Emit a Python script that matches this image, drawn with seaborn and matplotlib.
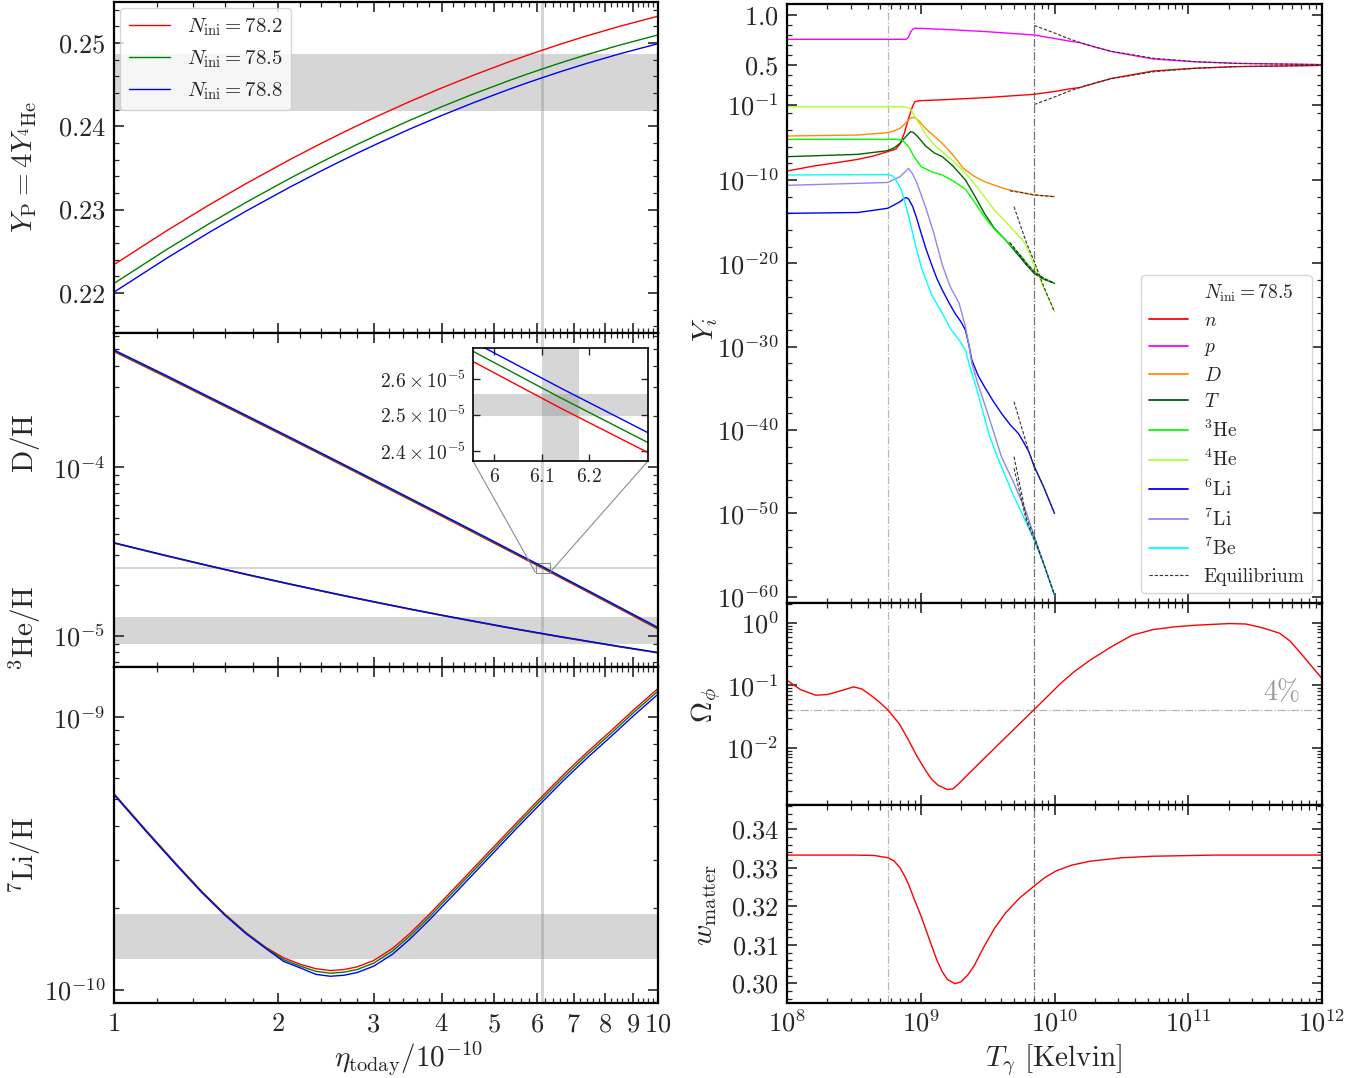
import numpy as np
import matplotlib
matplotlib.use("Agg")
import matplotlib.pyplot as plt
import seaborn as sns
from matplotlib.lines import Line2D
from matplotlib.ticker import FixedLocator, FixedFormatter, LogLocator, NullFormatter, NullLocator, MultipleLocator
from matplotlib.transforms import blended_transform_factory
from mpl_toolkits.axes_grid1.inset_locator import mark_inset

# ---------------- left column: abundances vs eta ----------------
N_LABELS = ["78.2", "78.5", "78.8"]
N_COLORS = ["red", "green", "blue"]

ETA = [1.0, 1.25, 1.5, 1.75, 2.1, 2.4, 2.6, 2.8, 3.05, 3.5, 4.0, 4.6, 5.3, 5.7, 6.14, 6.6, 7.4, 8.5, 10.0]

YP_782 = [0.22340, 0.22747, 0.23061, 0.23313, 0.23596, 0.23792, 0.23905, 0.24007, 0.24121, 0.24297,
          0.24458, 0.24617, 0.24768, 0.24842, 0.24914, 0.24982, 0.25084, 0.25198, 0.25320]
YP_785 = [0.22115, 0.22522, 0.22836, 0.23088, 0.23371, 0.23567, 0.23680, 0.23782, 0.23896, 0.24072,
          0.24233, 0.24392, 0.24543, 0.24617, 0.24689, 0.24757, 0.24859, 0.24973, 0.25095]
YP_788 = [0.22010, 0.22417, 0.22731, 0.22983, 0.23266, 0.23462, 0.23575, 0.23677, 0.23791, 0.23967,
          0.24128, 0.24287, 0.24438, 0.24512, 0.24584, 0.24652, 0.24754, 0.24868, 0.24990]

DH_782 = [4.85e-4, 3.41e-4, 2.545e-4, 1.987e-4, 1.480e-4, 1.191e-4, 1.045e-4, 9.26e-5, 8.04e-5, 6.41e-5,
          5.14e-5, 4.076e-5, 3.218e-5, 2.848e-5, 2.518e-5, 2.226e-5, 1.835e-5, 1.450e-5, 1.099e-5]
DH_785 = [4.90e-4, 3.45e-4, 2.573e-4, 2.009e-4, 1.496e-4, 1.204e-4, 1.056e-4, 9.36e-5, 8.13e-5, 6.48e-5,
          5.20e-5, 4.121e-5, 3.253e-5, 2.880e-5, 2.547e-5, 2.250e-5, 1.855e-5, 1.466e-5, 1.111e-5]
DH_788 = [4.96e-4, 3.49e-4, 2.601e-4, 2.031e-4, 1.513e-4, 1.217e-4, 1.068e-4, 9.46e-5, 8.22e-5, 6.55e-5,
          5.25e-5, 4.166e-5, 3.289e-5, 2.910e-5, 2.575e-5, 2.275e-5, 1.875e-5, 1.482e-5, 1.123e-5]

HE3_782 = [3.548e-5, 2.975e-5, 2.589e-5, 2.310e-5, 2.027e-5, 1.847e-5, 1.749e-5, 1.664e-5, 1.573e-5, 1.439e-5,
           1.323e-5, 1.216e-5, 1.118e-5, 1.072e-5, 1.028e-5, 9.87e-6, 9.28e-6, 8.62e-6, 7.94e-6]
HE3_785 = [3.56e-5, 2.985e-5, 2.597e-5, 2.317e-5, 2.033e-5, 1.853e-5, 1.754e-5, 1.669e-5, 1.578e-5, 1.443e-5,
           1.327e-5, 1.220e-5, 1.121e-5, 1.075e-5, 1.031e-5, 9.90e-6, 9.31e-6, 8.65e-6, 7.96e-6]
HE3_788 = [3.57e-5, 2.995e-5, 2.605e-5, 2.324e-5, 2.039e-5, 1.859e-5, 1.759e-5, 1.674e-5, 1.583e-5, 1.447e-5,
           1.331e-5, 1.224e-5, 1.124e-5, 1.078e-5, 1.034e-5, 9.93e-6, 9.34e-6, 8.68e-6, 7.98e-6]

ETA_LI = [1.0, 1.15, 1.3, 1.45, 1.6, 1.75, 1.9, 2.05, 2.2, 2.35, 2.5, 2.65, 2.8, 3.0, 3.25, 3.5, 3.8,
          4.2, 4.6, 5.0, 5.5, 6.1, 6.7, 7.4, 8.2, 9.0, 10.0]
LI7_782 = [5.25e-10, 3.82e-10, 2.91e-10, 2.30e-10, 1.897e-10, 1.622e-10, 1.435e-10, 1.312e-10, 1.242e-10,
           1.197e-10, 1.178e-10, 1.189e-10, 1.216e-10, 1.282e-10, 1.419e-10, 1.614e-10, 1.897e-10, 2.333e-10,
           2.825e-10, 3.365e-10, 4.11e-10, 5.09e-10, 6.15e-10, 7.43e-10, 8.93e-10, 1.06e-9, 1.275e-9]
LI7_785 = [5.22e-10, 3.80e-10, 2.895e-10, 2.29e-10, 1.888e-10, 1.614e-10, 1.428e-10, 1.292e-10, 1.223e-10,
           1.171e-10, 1.152e-10, 1.163e-10, 1.189e-10, 1.254e-10, 1.388e-10, 1.578e-10, 1.855e-10, 2.282e-10,
           2.763e-10, 3.291e-10, 4.02e-10, 4.98e-10, 6.01e-10, 7.27e-10, 8.73e-10, 1.037e-9, 1.247e-9]
LI7_788 = [5.20e-10, 3.78e-10, 2.88e-10, 2.277e-10, 1.878e-10, 1.606e-10, 1.421e-10, 1.273e-10, 1.205e-10,
           1.141e-10, 1.123e-10, 1.133e-10, 1.159e-10, 1.222e-10, 1.352e-10, 1.538e-10, 1.808e-10, 2.223e-10,
           2.692e-10, 3.207e-10, 3.92e-10, 4.85e-10, 5.86e-10, 7.08e-10, 8.51e-10, 1.010e-9, 1.215e-9]

# observational bands
ETA_OBS = [6.10, 6.18]
YP_OBS = [0.2418, 0.2487]
DH_OBS = [2.497e-5, 2.557e-5]
HE3_OBS = [0.9e-5, 1.3e-5]
LI7_OBS = [1.3e-10, 1.9e-10]

# ---------------- right column: abundances vs temperature (N_ini = 78.5) ----------------
T_N = [1.0e8, 1.64e8, 2.5e8, 3.39e8, 4.47e8, 5.64e8, 6.52e8, 7.0e8, 7.53e8, 8.11e8, 8.71e8, 9.04e8, 9.77e8,
       1.45e9, 2.99e9, 7.06e9, 1.0e10, 1.28e10, 1.55e10, 2.65e10, 5.47e10, 1.13e11, 2.34e11, 1.0e12]
Y_N = [1.2e-9, 5.2e-9, 1.4e-8, 3.0e-8, 7.9e-8, 2.5e-7, 5.2e-7, 2.1e-6, 4.0e-5, 2.5e-3, 0.076, 0.133, 0.143,
       0.152, 0.173, 0.207, 0.235, 0.26, 0.275, 0.365, 0.44, 0.468, 0.484, 0.496]
T_P = [1.0e8, 3.39e8, 7.53e8, 7.82e8, 8.11e8, 8.39e8, 8.71e8, 9.04e8, 1.0e9, 1.45e9, 2.99e9, 7.06e9, 1.0e10,
       1.28e10, 1.55e10, 2.65e10, 5.47e10, 1.13e11, 2.34e11, 1.0e12]
Y_P = [0.757, 0.757, 0.757, 0.759, 0.78, 0.83, 0.858, 0.867, 0.866, 0.857, 0.835, 0.80, 0.765, 0.74, 0.723,
       0.635, 0.56, 0.532, 0.516, 0.504]
T_D = [1.0e8, 3.39e8, 5.64e8, 6.31e8, 7.0e8, 7.53e8, 8.09e8, 8.39e8, 8.71e8, 9.04e8, 9.55e8, 1.084e9, 1.26e9,
       1.449e9, 1.74e9, 2.08e9, 2.51e9, 2.99e9, 3.55e9, 4.31e9, 5.62e9, 7.06e9, 1.0e10]
Y_D = [1.9e-5, 2.5e-5, 4.8e-5, 7.6e-5, 1.6e-4, 4.5e-4, 1.6e-3, 2.8e-3, 3.2e-3, 2.75e-3, 1.6e-3, 1.6e-4, 1.8e-5,
       2.5e-6, 1.0e-7, 2.5e-9, 2.8e-10, 6.3e-11, 2.4e-11, 8.3e-12, 3.2e-12, 1.6e-12, 1.0e-12]
T_T = [1.0e8, 3.39e8, 5.64e8, 6.31e8, 7.0e8, 7.53e8, 8.09e8, 8.39e8, 8.71e8, 9.33e8, 1.084e9, 1.26e9, 1.449e9,
       1.74e9, 2.158e9, 2.51e9, 2.99e9, 3.55e9, 4.31e9, 5.62e9, 6.19e9, 7.06e9, 8.32e9, 1.0e10]
Y_T = [6.3e-8, 1.2e-7, 3.3e-7, 7.1e-7, 2.5e-6, 1.0e-5, 3.5e-5, 6.3e-5, 5.6e-5, 2.2e-5, 1.26e-6, 1.8e-7, 6.3e-8,
       5.0e-9, 1.0e-10, 1.6e-12, 1.0e-14, 1.6e-16, 6.3e-18, 4.0e-20, 6.3e-21, 6.3e-22, 1.26e-22, 4.0e-23]
T_HE3 = [1.0e8, 6.52e8, 7.26e8, 8.11e8, 8.91e8, 1.007e9, 1.20e9, 1.449e9, 1.74e9, 2.158e9, 2.51e9, 2.99e9,
         3.55e9, 4.31e9, 5.62e9, 6.19e9, 7.06e9, 8.32e9, 1.0e10]
Y_HE3 = [7.6e-6, 7.6e-6, 6.3e-6, 1.0e-6, 6.3e-8, 4.0e-9, 1.0e-9, 4.0e-10, 7.9e-11, 7.9e-12, 2.5e-13, 4.0e-15,
         1.26e-16, 6.3e-18, 7.9e-20, 1.0e-20, 1.0e-21, 1.6e-22, 4.0e-23]
T_HE4 = [1.0e8, 7.53e8, 7.94e8, 8.39e8, 9.04e8, 1.007e9, 1.084e9, 1.26e9, 1.449e9, 1.74e9, 2.08e9, 2.51e9,
         2.99e9, 3.55e9, 4.31e9, 5.75e9, 6.19e9, 7.06e9, 8.32e9, 1.0e10]
Y_HE4 = [0.0617, 0.0617, 0.050, 0.0316, 4.0e-3, 2.5e-4, 3.2e-5, 1.6e-6, 2.5e-7, 2.0e-8, 1.3e-9, 4.0e-11,
         1.0e-12, 2.5e-14, 1.0e-15, 6.3e-18, 1.0e-18, 6.3e-21, 1.0e-23, 1.6e-26]
T_LI6 = [1.0e8, 3.39e8, 5.64e8, 6.31e8, 7.0e8, 7.53e8, 7.82e8, 8.13e8, 8.71e8, 9.33e8, 1.007e9, 1.096e9,
         1.208e9, 1.318e9, 1.449e9, 1.622e9, 1.803e9, 1.995e9, 2.158e9, 2.291e9, 2.41e9, 2.69e9, 2.99e9,
         3.47e9, 4.01e9, 4.68e9, 5.36e9, 5.89e9, 6.43e9, 7.06e9, 8.28e9, 1.0e10]
Y_LI6 = [1.0e-14, 1.26e-14, 4.0e-14, 1.0e-13, 2.5e-13, 6.3e-13, 7.9e-13, 5.0e-13, 6.3e-14, 2.5e-15, 4.0e-17,
         5.0e-19, 6.3e-21, 1.6e-22, 6.3e-24, 2.0e-25, 1.0e-26, 1.0e-27, 1.0e-28, 1.6e-30, 2.5e-32, 3.2e-34,
         1.6e-35, 3.2e-37, 1.0e-38, 4.0e-40, 4.0e-41, 3.2e-42, 2.5e-43, 4.0e-45, 1.6e-47, 1.0e-50]
T_LI7 = [1.0e8, 5.64e8, 7.0e8, 7.53e8, 8.11e8, 8.71e8, 9.38e8, 1.084e9, 1.253e9, 1.449e9, 1.66e9, 1.936e9,
         2.158e9, 2.291e9, 2.41e9, 2.69e9, 2.99e9, 3.47e9, 4.01e9, 4.98e9, 6.19e9, 7.06e9, 8.28e9, 1.0e10]
Y_LI7 = [2.3e-11, 5.0e-11, 2.5e-10, 7.9e-10, 2.5e-9, 5.0e-10, 4.0e-11, 6.3e-14, 4.0e-17, 6.3e-21, 1.6e-23,
         1.6e-25, 2.5e-28, 1.6e-30, 1.0e-32, 2.5e-35, 1.6e-37, 1.0e-40, 6.3e-44, 4.0e-47, 1.0e-50, 1.6e-53,
         1.0e-56, 1.6e-60]
T_BE7 = [1.0e8, 5.64e8, 6.17e8, 6.52e8, 7.08e8, 7.53e8, 8.13e8, 8.71e8, 9.33e8, 1.007e9, 1.096e9, 1.208e9,
         1.449e9, 1.66e9, 1.936e9, 2.158e9, 2.291e9, 2.59e9, 2.88e9, 3.22e9, 3.55e9, 4.01e9, 4.98e9, 6.19e9,
         7.06e9, 8.28e9, 1.0e10]
Y_BE7 = [4.0e-10, 4.4e-10, 3.2e-10, 1.0e-10, 1.0e-11, 4.0e-13, 4.0e-15, 4.0e-17, 4.0e-19, 4.0e-21, 1.0e-22,
         1.6e-24, 1.0e-26, 1.6e-28, 6.3e-30, 4.0e-31, 1.0e-32, 1.6e-35, 3.2e-38, 4.0e-41, 5.0e-43, 4.0e-45,
         1.0e-48, 6.3e-52, 6.3e-54, 1.0e-56, 1.6e-60]

# equilibrium curves
TEQ_NP = [7.06e9, 1.0e10, 1.28e10, 1.55e10, 2.0e10, 2.65e10, 5.47e10, 1.13e11, 2.34e11, 1.0e12]
YEQ_N = [0.105, 0.18, 0.237, 0.275, 0.32, 0.362, 0.432, 0.467, 0.484, 0.496]
YEQ_P = [0.895, 0.82, 0.763, 0.725, 0.68, 0.638, 0.568, 0.533, 0.516, 0.504]
TEQ_D = [4.63e9, 5.62e9, 7.06e9, 1.0e10]
YEQ_D = [5.0e-12, 3.2e-12, 1.6e-12, 1.0e-12]
TEQ_T = [4.63e9, 6.19e9, 7.06e9, 8.32e9, 1.0e10]
YEQ_T = [3.2e-18, 6.3e-21, 6.3e-22, 1.26e-22, 4.0e-23]
YEQ_HE3 = [3.2e-18, 1.0e-20, 1.0e-21, 1.6e-22, 4.0e-23]
TEQ_HE4 = [4.98e9, 6.19e9, 7.06e9, 8.32e9, 1.0e10]
YEQ_HE4 = [6.3e-14, 2.5e-18, 1.6e-20, 1.6e-23, 1.6e-26]
TEQ_LI6 = [4.98e9, 6.43e9, 7.06e9, 8.28e9, 1.0e10]
YEQ_LI6 = [2.5e-37, 2.5e-43, 4.0e-45, 1.6e-47, 1.0e-50]
TEQ_LI7 = [4.98e9, 6.19e9, 7.06e9, 8.28e9, 1.0e10]
YEQ_LI7 = [6.3e-44, 2.5e-51, 1.6e-53, 1.0e-56, 1.6e-60]
YEQ_BE7 = [2.5e-45, 1.0e-51, 6.3e-54, 1.0e-56, 1.6e-60]

T_OMEGA = [1.0e8, 1.26e8, 1.64e8, 2.0e8, 2.36e8, 3.15e8, 3.63e8, 4.22e8, 4.90e8, 5.71e8, 6.92e8, 8.11e8,
           9.33e8, 1.084e9, 1.20e9, 1.346e9, 1.581e9, 1.74e9, 1.936e9, 2.40e9, 2.99e9, 4.63e9, 7.06e9,
           1.107e10, 1.41e10, 1.84e10, 2.65e10, 3.80e10, 5.47e10, 7.94e10, 1.13e11, 2.02e11, 2.69e11,
           3.37e11, 3.98e11, 4.84e11, 5.75e11, 6.95e11, 8.32e11, 1.0e12]
OMEGA_PHI = [0.120, 0.0851, 0.0692, 0.0708, 0.0782, 0.0940, 0.0871, 0.0692, 0.0537, 0.0398, 0.0240, 0.0132,
             0.00741, 0.00437, 0.00316, 0.00251, 0.00214, 0.00219, 0.00269, 0.00427, 0.00676, 0.0170, 0.0410,
             0.106, 0.166, 0.251, 0.410, 0.631, 0.778, 0.861, 0.912, 0.970, 0.955, 0.857, 0.776, 0.676, 0.513,
             0.324, 0.204, 0.128]

T_W = [1.0e8, 3.16e8, 4.47e8, 5.71e8, 6.31e8, 7.0e8, 7.59e8, 8.11e8, 8.91e8, 1.007e9, 1.096e9, 1.208e9,
       1.318e9, 1.449e9, 1.585e9, 1.803e9, 2.0e9, 2.239e9, 2.51e9, 2.99e9, 3.55e9, 4.31e9, 5.50e9, 7.06e9,
       8.51e9, 1.03e10, 1.35e10, 1.84e10, 3.16e10, 5.47e10, 1.58e11, 1.0e12]
W_MATTER = [0.3333, 0.3333, 0.3332, 0.3326, 0.3318, 0.3300, 0.3278, 0.3257, 0.3220, 0.3174, 0.3138, 0.3097,
            0.3061, 0.3030, 0.3010, 0.2999, 0.3004, 0.3021, 0.3046, 0.3097, 0.3142, 0.3183, 0.3222, 0.3253,
            0.3275, 0.3292, 0.3307, 0.3317, 0.3326, 0.3330, 0.3333, 0.3333]

T_MARKS = [5.71e8, 7.06e9]

SPECIES = [
    (r"$n$", T_N, Y_N, "red"),
    (r"$p$", T_P, Y_P, "magenta"),
    (r"$D$", T_D, Y_D, "darkorange"),
    (r"$T$", T_T, Y_T, "darkgreen"),
    (r"${}^3$He", T_HE3, Y_HE3, "lime"),
    (r"${}^4$He", T_HE4, Y_HE4, "greenyellow"),
    (r"${}^6$Li", T_LI6, Y_LI6, "blue"),
    (r"${}^7$Li", T_LI7, Y_LI7, "#8f88f0"),
    (r"${}^7$Be", T_BE7, Y_BE7, "cyan"),
]
EQUILIBRIUM = [(TEQ_NP, YEQ_N), (TEQ_NP, YEQ_P), (TEQ_D, YEQ_D), (TEQ_T, YEQ_T), (TEQ_T, YEQ_HE3),
               (TEQ_HE4, YEQ_HE4), (TEQ_LI6, YEQ_LI6), (TEQ_LI7, YEQ_LI7), (TEQ_LI7, YEQ_BE7)]

sns.set_theme(style="ticks")
plt.rcParams.update({
    "font.family": "serif",
    "font.serif": ["cmr10"],
    "mathtext.fontset": "cm",
    "axes.unicode_minus": False,
    "axes.formatter.use_mathtext": True,
    "axes.linewidth": 1.6,
    "axes.edgecolor": "black",
})

W, H = 1372, 1078


def frame(px_left, px_top, px_right, px_bottom):
    return [px_left / W, 1 - px_bottom / H, (px_right - px_left) / W, (px_bottom - px_top) / H]


def line(ax, x, y, color, lw=1.0, **kw):
    sns.lineplot(x=x, y=y, ax=ax, color=color, linewidth=lw, estimator=None, sort=False, legend=False, **kw)


def style_ticks(ax, size=19):
    ax.tick_params(which="both", direction="in", top=True, right=True, labelsize=size, pad=6)
    ax.tick_params(which="major", length=7, width=1.2)
    ax.tick_params(which="minor", length=3.5, width=0.9)


def sci(v):
    return r"$10^{%d}$" % int(round(np.log10(v)))


fig = plt.figure(figsize=(W / 100, H / 100), dpi=100)

ax_yp = fig.add_axes(frame(114, 2, 658, 333))
ax_dh = fig.add_axes(frame(114, 333, 658, 667))
ax_li = fig.add_axes(frame(114, 667, 658, 1003))
ax_y = fig.add_axes(frame(787, 4, 1322, 603))
ax_om = fig.add_axes(frame(787, 603, 1322, 805))
ax_w = fig.add_axes(frame(787, 805, 1322, 1003))

# ---------- left column ----------
yp_sets = [YP_782, YP_785, YP_788]
dh_sets = [DH_782, DH_785, DH_788]
he3_sets = [HE3_782, HE3_785, HE3_788]
li_sets = [LI7_782, LI7_785, LI7_788]

for ax in (ax_yp, ax_dh, ax_li):
    ax.set_xscale("log")
ax_dh.set_yscale("log")
ax_li.set_yscale("log")

band = dict(color="gray", alpha=0.32, lw=0, zorder=0)
ax_yp.axhspan(*YP_OBS, **band)
ax_dh.axhspan(*DH_OBS, **band)
ax_dh.axhspan(*HE3_OBS, **band)
ax_li.axhspan(*LI7_OBS, **band)
for ax in (ax_yp, ax_dh, ax_li):
    ax.axvspan(*ETA_OBS, **band)

for c, yp, dh, he3, li in zip(N_COLORS, yp_sets, dh_sets, he3_sets, li_sets):
    line(ax_yp, ETA, yp, c)
    line(ax_dh, ETA, dh, c)
    line(ax_dh, ETA, he3, c)
    line(ax_li, ETA_LI, li, c)

ax_yp.set_ylim(0.2152, 0.2549)
ax_dh.set_ylim(6.55e-6, 6.25e-4)
ax_li.set_ylim(8.96e-11, 1.529e-9)

eta_major = list(range(1, 11))
eta_minor = [i + 0.2 * k for i in range(1, 10) for k in range(1, 5)]
for ax in (ax_yp, ax_dh, ax_li):
    ax.set_xlim(1, 10)
    ax.xaxis.set_major_locator(FixedLocator(eta_major))
    ax.xaxis.set_minor_locator(FixedLocator(eta_minor))
    ax.xaxis.set_major_formatter(FixedFormatter([r"$%d$" % v for v in eta_major]))
    ax.xaxis.set_minor_formatter(NullFormatter())
    style_ticks(ax)
    ax.set_xlabel("")
    ax.set_ylabel("")
ax_yp.tick_params(labelbottom=False)
ax_dh.tick_params(labelbottom=False)
ax_li.tick_params(axis="x", pad=7)

yp_ticks = [0.22, 0.23, 0.24, 0.25]
ax_yp.yaxis.set_major_locator(FixedLocator(yp_ticks))
ax_yp.yaxis.set_major_formatter(FixedFormatter([r"$%.2f$" % v for v in yp_ticks]))
ax_yp.yaxis.set_minor_locator(MultipleLocator(0.002))

ax_dh.yaxis.set_major_locator(FixedLocator([1e-5, 1e-4]))
ax_dh.yaxis.set_major_formatter(FixedFormatter([r"$10^{-5}$", r"$10^{-4}$"]))
ax_dh.yaxis.set_minor_locator(LogLocator(base=10, subs=range(2, 10)))
ax_dh.yaxis.set_minor_formatter(NullFormatter())

ax_li.yaxis.set_major_locator(FixedLocator([1e-10, 1e-9]))
ax_li.yaxis.set_major_formatter(FixedFormatter([r"$10^{-10}$", r"$10^{-9}$"]))
ax_li.yaxis.set_minor_locator(LogLocator(base=10, subs=range(2, 10)))
ax_li.yaxis.set_minor_formatter(NullFormatter())

ax_yp.legend([Line2D([], [], color=c, lw=1.0) for c in N_COLORS],
             [r"$N_{\rm ini} = %s$" % n for n in N_LABELS],
             loc="upper left", fontsize=15, frameon=True, fancybox=True, framealpha=0.8,
             edgecolor="0.8", borderaxespad=0.3)

# zoom inset on the D/H measurement
axins = fig.add_axes(frame(473, 348, 648, 461))
axins.set_yscale("log")
axins.axhspan(*DH_OBS, **band)
axins.axvspan(*ETA_OBS, **band)
for c, dh in zip(N_COLORS, dh_sets):
    line(axins, ETA, dh, c)
axins.set_xlim(5.955, 6.325)
axins.set_ylim(2.374e-5, 2.692e-5)
axins.xaxis.set_major_locator(FixedLocator([6.0, 6.1, 6.2]))
axins.xaxis.set_major_formatter(FixedFormatter([r"$6$", r"$6.1$", r"$6.2$"]))
axins.yaxis.set_major_locator(FixedLocator([2.4e-5, 2.5e-5, 2.6e-5]))
axins.yaxis.set_major_formatter(FixedFormatter([r"$2.4\times10^{-5}$", r"$2.5\times10^{-5}$",
                                                r"$2.6\times10^{-5}$"]))
axins.yaxis.set_minor_locator(NullLocator())
axins.xaxis.set_minor_locator(NullLocator())
axins.tick_params(which="both", direction="in", top=True, right=True, labelsize=14, length=5, width=1.0, pad=5)
for s in axins.spines.values():
    s.set_linewidth(1.2)
axins.set_xlabel("")
axins.set_ylabel("")
mark_inset(ax_dh, axins, loc1=3, loc2=4, fc="none", ec="0.55", lw=0.8)


# ---------- right column ----------
# linear above 0.1, logarithmic below (12 decades per unit on the linear part)
def fwd(y):
    y = np.asarray(y, dtype=float)
    lg = np.log10(np.where(y > 0, y, 1e-300))
    return np.where(y >= 0.1, -1 + (y - 0.1) * 12, lg)


def inv(u):
    u = np.asarray(u, dtype=float)
    return np.where(u >= -1, 0.1 + (u + 1) / 12, 10.0 ** np.minimum(u, -1))


for ax in (ax_y, ax_om, ax_w):
    ax.set_xscale("log")
ax_y.set_yscale("function", functions=(fwd, inv))
ax_om.set_yscale("log")

for ax in (ax_y, ax_om, ax_w):
    ax.axvline(T_MARKS[0], color="0.72", ls="-.", lw=0.9, zorder=0)
    ax.axvline(T_MARKS[1], color="0.45", ls="-.", lw=0.9, zorder=0)

for label, tx, ty, c in SPECIES:
    line(ax_y, tx, ty, c)
for tx, ty in EQUILIBRIUM:
    line(ax_y, tx, ty, "0.2", lw=0.8, linestyle=(0, (3, 1.6)))

ax_y.set_ylim(10.0 ** -60.76, 1.11)
y_major = [1e-60, 1e-50, 1e-40, 1e-30, 1e-20, 1e-10, 0.1, 0.5, 1.0]
y_major_lab = [sci(v) for v in y_major[:7]] + [r"$0.5$", r"$1.0$"]
y_minor = [10.0 ** -k for k in range(2, 61, 2) if k % 10] + [0.2, 0.3, 0.4, 0.6, 0.7, 0.8, 0.9]
ax_y.yaxis.set_major_locator(FixedLocator(y_major))
ax_y.yaxis.set_major_formatter(FixedFormatter(y_major_lab))
ax_y.yaxis.set_minor_locator(FixedLocator(y_minor))
ax_y.yaxis.set_minor_formatter(NullFormatter())

eq_handle = Line2D([], [], color="0.2", lw=0.8, linestyle=(0, (3, 1.6)))
handles = [Line2D([], [], color="none")] + [Line2D([], [], color=c, lw=1.3) for _, _, _, c in SPECIES] + [eq_handle]
labels = [r"$N_{\rm ini} = 78.5$"] + [s[0] for s in SPECIES] + ["Equilibrium"]
ax_y.legend(handles, labels, loc="lower right", fontsize=14, frameon=True, fancybox=True, framealpha=0.8,
            edgecolor="0.8", borderaxespad=0.5, labelspacing=0.43)

line(ax_om, T_OMEGA, OMEGA_PHI, "red")
ax_om.axhline(0.04, color="0.7", ls="-.", lw=0.9, zorder=0)
ax_om.text(0.96, 0.046, r"$4\%$", color="0.6", fontsize=20, ha="right", va="bottom",
           transform=blended_transform_factory(ax_om.transAxes, ax_om.transData))
ax_om.set_ylim(1.21e-3, 2.07)
ax_om.yaxis.set_major_locator(FixedLocator([1e-2, 1e-1, 1.0]))
ax_om.yaxis.set_major_formatter(FixedFormatter([r"$10^{-2}$", r"$10^{-1}$", r"$10^{0}$"]))
ax_om.yaxis.set_minor_locator(LogLocator(base=10, subs=range(2, 10)))
ax_om.yaxis.set_minor_formatter(NullFormatter())

line(ax_w, T_W, W_MATTER, "red")
ax_w.set_ylim(0.2949, 0.3463)
w_ticks = [0.30, 0.31, 0.32, 0.33, 0.34]
ax_w.yaxis.set_major_locator(FixedLocator(w_ticks))
ax_w.yaxis.set_major_formatter(FixedFormatter([r"$%.2f$" % v for v in w_ticks]))
ax_w.yaxis.set_minor_locator(MultipleLocator(0.002))

t_major = [1e8, 1e9, 1e10, 1e11, 1e12]
for ax in (ax_y, ax_om, ax_w):
    ax.set_xlim(1e8, 1e12)
    ax.xaxis.set_major_locator(FixedLocator(t_major))
    ax.xaxis.set_major_formatter(FixedFormatter([sci(v) for v in t_major]))
    ax.xaxis.set_minor_locator(LogLocator(base=10, subs=range(2, 10)))
    ax.xaxis.set_minor_formatter(NullFormatter())
    style_ticks(ax)
    ax.set_xlabel("")
    ax.set_ylabel("")
ax_y.tick_params(labelbottom=False)
ax_om.tick_params(labelbottom=False)
ax_w.tick_params(axis="x", pad=5)

# ---------- axis labels ----------
lab = dict(rotation=90, ha="center", va="center", fontsize=21)
fig.text(25 / W, 1 - 167 / H, r"$Y_{\rm P}=4Y_{{}^4{\rm He}}$", **lab)
fig.text(25 / W, 1 - 443 / H, r"$\mathrm{D/H}$", **lab)
fig.text(25 / W, 1 - 628 / H, r"${}^3\mathrm{He/H}$", **lab)
fig.text(25 / W, 1 - 855 / H, r"${}^7\mathrm{Li/H}$", **lab)
fig.text(706 / W, 1 - 330 / H, r"$Y_i$", **lab)
fig.text(706 / W, 1 - 705 / H, r"$\Omega_\phi$", **lab)
fig.text(706 / W, 1 - 905 / H, r"$w_{\rm matter}$", **lab)
fig.text(409 / W, 1 - 1058 / H, r"$\eta_{\rm today}/10^{-10}$", ha="center", va="center", fontsize=21)
fig.text(1054 / W, 1 - 1061 / H, r"$T_\gamma$ [Kelvin]", ha="center", va="center", fontsize=21)

fig.savefig("out.png", dpi=100)
